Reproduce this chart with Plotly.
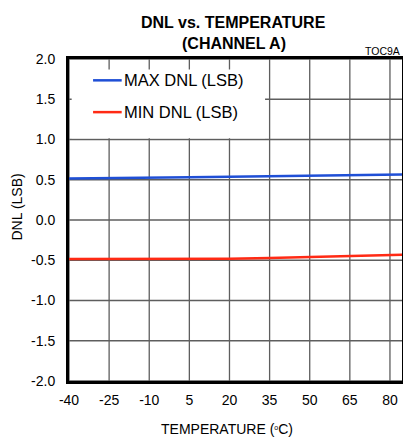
import plotly.graph_objects as go

# Temperature sweep (degC) and measured DNL extremes (LSB)
temp_c = [-40, -25, -10, 5, 20, 35, 50, 65, 85]
max_dnl = [0.515, 0.518, 0.524, 0.530, 0.538, 0.545, 0.553, 0.560, 0.567]
min_dnl = [-0.485, -0.485, -0.485, -0.484, -0.481, -0.472, -0.457, -0.445, -0.430]

x_ticks = [-40, -25, -10, 5, 20, 35, 50, 65, 80]
y_ticks = [-2.0, -1.5, -1.0, -0.5, 0.0, 0.5, 1.0, 1.5, 2.0]
y_tick_text = [f"{v:.1f}" for v in y_ticks]

series_names = ["MAX DNL (LSB)", "MIN DNL (LSB)"]
BLUE = "#1f4fd6"
RED = "#ff2a14"
GRID = "#5e5e5e"
FONT = "Liberation Sans, Arial, sans-serif"
X_RANGE = [-40, 84.5]
Y_RANGE = [-2.0, 2.0]

fig = go.Figure()

# grid drawn at the tick positions, beneath the data
for xv in x_ticks:
    fig.add_shape(type="line", xref="x", yref="y", x0=xv, x1=xv,
                  y0=Y_RANGE[0], y1=Y_RANGE[1],
                  line=dict(color=GRID, width=1.3), layer="below")
for yv in y_ticks:
    fig.add_shape(type="line", xref="x", yref="y", x0=X_RANGE[0], x1=X_RANGE[1],
                  y0=yv, y1=yv, line=dict(color=GRID, width=1.3), layer="below")

fig.add_trace(go.Scatter(x=temp_c, y=max_dnl, mode="lines", name=series_names[0],
                         line=dict(color=BLUE, width=2.5), showlegend=False))
fig.add_trace(go.Scatter(x=temp_c, y=min_dnl, mode="lines", name=series_names[1],
                         line=dict(color=RED, width=2.5), showlegend=False))

# white legend panel that hides the grid behind the key
fig.add_shape(type="rect", xref="x", yref="y", x0=-39, x1=33.3, y0=1.015, y1=1.87,
              fillcolor="white", line=dict(width=0), layer="above")

# legend key: line samples and labels
key_y = [1.735, 1.34]
for name, color, ky in zip(series_names, [BLUE, RED], key_y):
    fig.add_shape(type="line", xref="x", yref="y", x0=-31, x1=-20.3, y0=ky, y1=ky,
                  line=dict(color=color, width=2.5), layer="above")
    fig.add_annotation(x=-20.3, y=ky, xref="x", yref="y", text=name, showarrow=False,
                       xanchor="left", yanchor="middle",
                       font=dict(family=FONT, size=16.5, color="black"))

H_PLOT = 322.0
def py(px):
    return (381 - px) / H_PLOT

W_PLOT = 333
def pxp(px):
    return (px - 69) / W_PLOT

# title lines
fig.add_annotation(x=pxp(233.5), y=py(22.5), xref="paper", yref="paper",
                   text="<b>DNL vs. TEMPERATURE</b>", showarrow=False,
                   xanchor="center", yanchor="middle",
                   font=dict(family=FONT, size=16, color="black"))
fig.add_annotation(x=pxp(233.5), y=py(43.5), xref="paper", yref="paper",
                   text="<b>(CHANNEL A)</b>", showarrow=False,
                   xanchor="center", yanchor="middle",
                   font=dict(family=FONT, size=16, color="black"))
fig.add_annotation(x=pxp(402), y=py(51.5), xref="paper", yref="paper",
                   text="TOC9A", showarrow=False, xanchor="right", yanchor="middle",
                   font=dict(family=FONT, size=10.5, color="black"))

# axis titles
fig.add_annotation(x=pxp(227), y=py(429), xref="paper", yref="paper",
                   text="TEMPERATURE (<span style='font-size:10px'><sup>o</sup></span>C)",
                   showarrow=False, xanchor="center", yanchor="middle",
                   font=dict(family=FONT, size=14, color="black"))
fig.add_annotation(x=pxp(16.5), y=py(207), xref="paper", yref="paper",
                   text="DNL (LSB)", showarrow=False, textangle=-90,
                   xanchor="center", yanchor="middle",
                   font=dict(family=FONT, size=14, color="black"))

fig.update_xaxes(range=X_RANGE, tickmode="array", tickvals=x_ticks,
                 ticktext=[str(v) for v in x_ticks], showgrid=False,
                 showline=True, linecolor="black", linewidth=3, mirror=True,
                 ticks="outside", ticklen=4, tickcolor="rgba(0,0,0,0)", zeroline=False,
                 tickfont=dict(family=FONT, size=14, color="black"))
fig.update_yaxes(range=Y_RANGE, tickmode="array", tickvals=y_ticks,
                 ticktext=y_tick_text, showgrid=False,
                 showline=True, linecolor="black", linewidth=3, mirror=True,
                 ticks="outside", ticklen=8, tickcolor="rgba(0,0,0,0)", zeroline=False,
                 tickfont=dict(family=FONT, size=14, color="black"))

fig.update_layout(template="none", width=403, height=442,
                  plot_bgcolor="white", paper_bgcolor="white",
                  margin=dict(l=69, r=1, t=59, b=61), showlegend=False)

fig.write_html("out.html")
